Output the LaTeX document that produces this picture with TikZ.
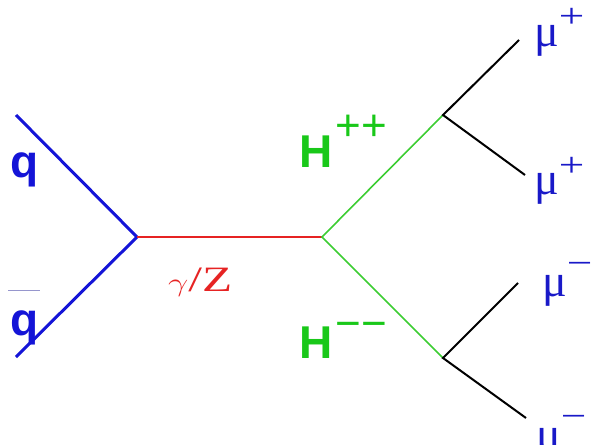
\documentclass[tikz,border=0pt]{standalone}
\usepackage{fontspec}
\setmainfont{Liberation Serif}
\setsansfont{Liberation Sans}
\usepackage{xcolor}
\definecolor{quarkBlue}{RGB}{20,20,215}
\definecolor{bosonRed}{RGB}{230,35,35}
\definecolor{higgsGreen}{RGB}{60,205,50}
\definecolor{labelGreen}{RGB}{25,200,25}
\definecolor{muonBlue}{RGB}{25,25,200}
\definecolor{barGrey}{RGB}{150,150,205}
\usepackage{graphicx}
\usepackage{tikz}
% raised superscripts of the labels
\newcommand{\musup}[2]{\raisebox{#1}[0pt][0pt]{\fontsize{34}{34}\selectfont\scalebox{1.33}[1]{#2}}}
\newcommand{\hsup}[2]{\kern3pt\raisebox{#1}[0pt][0pt]{\fontsize{44}{44}\selectfont\mdseries #2}}

\begin{document}
\begin{tikzpicture}[x=1pt,y=-1pt,
  quark/.style={line width=3pt,quarkBlue},
  boson/.style={line width=1.5pt,bosonRed},
  higgs/.style={line width=1.6pt,higgsGreen},
  muon/.style={line width=2pt,black},
  qlabel/.style={anchor=base west,inner sep=0pt,quarkBlue,font=\sffamily\bfseries\fontsize{46}{46}\selectfont},
  hlabel/.style={anchor=base west,inner sep=0pt,labelGreen,font=\sffamily\bfseries\fontsize{46}{46}\selectfont},
  mlabel/.style={anchor=base west,inner sep=0pt,muonBlue,font=\fontsize{46}{46}\selectfont}]
  \useasboundingbox (0,0) rectangle (593,444);
  % vertices and free ends
  \coordinate (q1) at (16,115);    % incoming quark
  \coordinate (q2) at (16,357);    % incoming antiquark
  \coordinate (v1) at (137,237);   % annihilation
  \coordinate (v2) at (322,237);   % pair production
  \coordinate (h1) at (443,115);   % H++ decay
  \coordinate (h2) at (443,358);   % H-- decay
  \coordinate (m1) at (519,40);
  \coordinate (m2) at (525,175);
  \coordinate (m3) at (518,283);
  \coordinate (m4) at (526,418);
  % propagators
  \draw[quark] (q1) -- (v1) -- (q2);
  \draw[boson] (v1) -- (v2);
  \draw[higgs] (h1) -- (v2) -- (h2);
  \draw[muon] (m1) -- (h1) -- (m2);
  \draw[muon] (m3) -- (h2) -- (m4);
  % particle labels
  \node[qlabel] (lq) at (10,177) {q};
  \node[qlabel] (lqbar) at (10,335)
    {\rlap{\kern-2pt\raisebox{44pt}[0pt][0pt]{\textcolor{barGrey}{\rule{32pt}{1.2pt}}}}q};
  \node[anchor=base west,inner sep=0pt,bosonRed] (lgz) at (168,291)
    {\scalebox{1.45}[1.05]{\fontsize{34}{34}\selectfont$\gamma$/Z}};
  \node[hlabel] (lhpp) at (299,167) {H\hsup{27pt}{++}};
  \node[hlabel] (lhmm) at (299,358) {H\hsup{20pt}{−−}};
  \node[mlabel] (lm1) at (534,46) {μ\musup{18pt}{+}};
  \node[mlabel] (lm2) at (534,194) {μ\musup{18pt}{+}};
  \node[mlabel] (lm3) at (542,296) {μ\musup{22pt}{−}};
  \node[mlabel] (lm4) at (536,449) {μ\musup{22pt}{−}};
\end{tikzpicture}
\end{document}
